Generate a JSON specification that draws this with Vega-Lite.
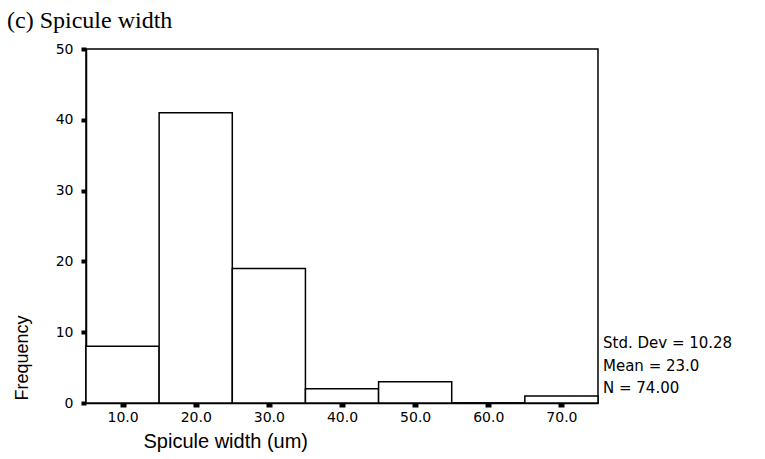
{
  "$schema": "https://vega.github.io/schema/vega-lite/v6.json",
  "width": 512,
  "height": 354,
  "autosize": {"type": "none"},
  "padding": {"left": 86, "top": 49, "right": 167, "bottom": 56},
  "background": "white",
  "title": {
    "text": "(c) Spicule width",
    "font": "Liberation Serif",
    "fontSize": 24,
    "fontWeight": "normal",
    "color": "black",
    "anchor": "start",
    "frame": "group",
    "baseline": "alphabetic",
    "dx": -79,
    "dy": 29,
    "offset": 19
  },
  "config": {
    "view": {"stroke": "black", "strokeWidth": 1.5},
    "axis": {
      "grid": false,
      "domainColor": "black",
      "domainWidth": 1.5,
      "tickColor": "black",
      "labelColor": "black",
      "labelFont": "DejaVu Sans",
      "labelFontSize": 14,
      "titleColor": "black",
      "titleFont": "Liberation Sans",
      "titleFontWeight": "normal"
    }
  },
  "layer": [
    {
      "data": {
        "values": [
          {"bin_start": 5, "bin_end": 15, "count": 8},
          {"bin_start": 15, "bin_end": 25, "count": 41},
          {"bin_start": 25, "bin_end": 35, "count": 19},
          {"bin_start": 35, "bin_end": 45, "count": 2},
          {"bin_start": 45, "bin_end": 55, "count": 3},
          {"bin_start": 55, "bin_end": 65, "count": 0},
          {"bin_start": 65, "bin_end": 75, "count": 1}
        ]
      },
      "mark": {"type": "rect", "fill": "white", "stroke": "black", "strokeWidth": 1.5},
      "encoding": {
        "x": {
          "field": "bin_start",
          "type": "quantitative",
          "scale": {"domain": [5, 75], "nice": false, "zero": false},
          "axis": {
            "values": [10, 20, 30, 40, 50, 60, 70],
            "format": ".1f",
            "tickSize": 4,
            "tickWidth": 6,
            "labelPadding": 3,
            "title": "Spicule width (um)",
            "titleFontSize": 20,
            "titleAnchor": "start",
            "titleAlign": "left",
            "titleX": 57,
            "titleY": 38,
            "titleBaseline": "middle"
          }
        },
        "x2": {"field": "bin_end"},
        "y": {
          "field": "count",
          "type": "quantitative",
          "scale": {"domain": [0, 50], "nice": false},
          "axis": {
            "values": [0, 10, 20, 30, 40, 50],
            "tickSize": 5,
            "tickWidth": 4,
            "labelPadding": 8,
            "title": "Frequency",
            "titleFontSize": 18,
            "titleAnchor": "start",
            "titleAlign": "left",
            "titleAngle": -90,
            "titleX": -64,
            "titleY": 351,
            "titleBaseline": "middle"
          }
        },
        "y2": {"datum": 0}
      }
    },
    {
      "data": {"values": [{"stat": "Std. Dev = 10.28\nMean = 23.0\nN = 74.00"}]},
      "mark": {
        "type": "text",
        "align": "left",
        "baseline": "bottom",
        "lineBreak": "\n",
        "lineHeight": 22.5,
        "font": "DejaVu Sans",
        "fontSize": 15,
        "color": "black",
        "dx": 5,
        "dy": -52
      },
      "encoding": {
        "x": {"datum": 75, "type": "quantitative"},
        "y": {"datum": 0, "type": "quantitative"},
        "text": {"field": "stat"}
      }
    }
  ]
}
